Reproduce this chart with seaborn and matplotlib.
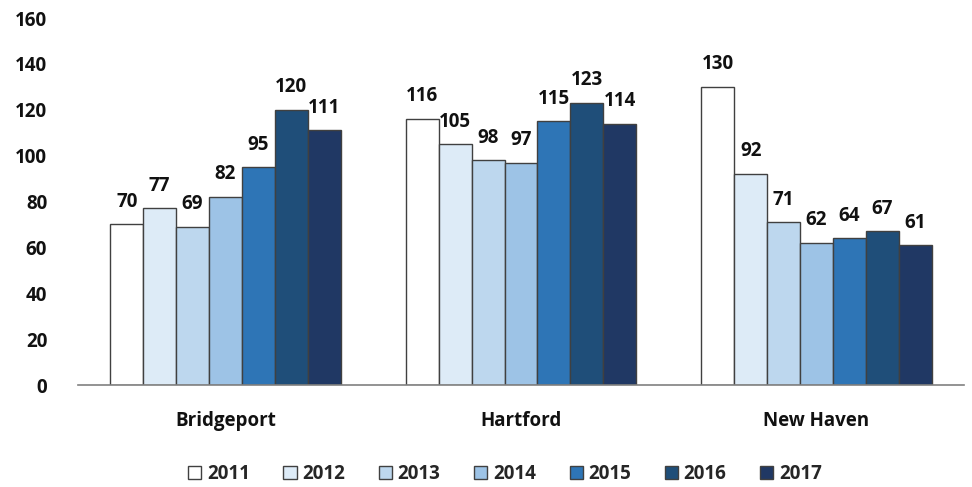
import matplotlib
matplotlib.use("Agg")
import matplotlib.pyplot as plt
import seaborn as sns
import pandas as pd

cities = ["Bridgeport", "Hartford", "New Haven"]
years = ["2011", "2012", "2013", "2014", "2015", "2016", "2017"]
bridgeport = [70, 77, 69, 82, 95, 120, 111]
hartford = [116, 105, 98, 97, 115, 123, 114]
new_haven = [130, 92, 71, 62, 64, 67, 61]
colors = ["#FFFFFF", "#DDEBF7", "#BDD7EE", "#9DC3E6", "#2E75B6", "#1F4E79", "#203864"]
yticks = [0, 20, 40, 60, 80, 100, 120, 140, 160]

rows = []
for city, vals in zip(cities, [bridgeport, hartford, new_haven]):
    for y, v in zip(years, vals):
        rows.append({"city": city, "year": y, "value": v})
df = pd.DataFrame(rows)

sns.set_theme(style="white")
plt.rcParams["font.family"] = ["Open Sans", "DejaVu Sans"]
plt.rcParams["font.weight"] = "bold"

FS = 13.5
TXT = "#111111"

fig = plt.figure(figsize=(9.72, 4.87), dpi=100)
ax = fig.add_axes([0.080, 0.2094, 0.912, 0.7536])
sns.barplot(data=df, x="city", y="value", hue="year", order=cities, hue_order=years,
            palette=colors, edgecolor="#404040", linewidth=1.0, width=0.78, ax=ax,
            saturation=1, legend=True)

for cont in ax.containers:
    ax.bar_label(cont, fmt="%d", padding=9, fontsize=FS, fontweight="bold", color=TXT)

ax.set_ylim(0, 160)
ax.set_xlim(-0.5, 2.5)
ax.set_yticks(yticks)
ax.set_yticklabels([str(t) for t in yticks], fontsize=FS, fontweight="bold", color=TXT)
ax.set_xticklabels(cities, fontsize=FS, fontweight="bold", color=TXT)
ax.tick_params(axis="x", pad=19, length=0)
ax.tick_params(axis="y", pad=22, length=0)
ax.set_xlabel("")
ax.set_ylabel("")
for s in ["top", "right", "left"]:
    ax.spines[s].set_visible(False)
ax.spines["bottom"].set_color("#808080")
ax.spines["bottom"].set_linewidth(1.2)

leg = ax.legend(loc="upper center", bbox_to_anchor=(0.482, -0.17), ncol=7, frameon=False,
                handlelength=0.7, handleheight=0.7, handletextpad=0.3,
                columnspacing=1.8, prop={"weight": "bold", "size": FS})
for h in leg.legend_handles:
    h.set_edgecolor("#404040")
    h.set_linewidth(1.0)

fig.savefig("out.png", dpi=100)
